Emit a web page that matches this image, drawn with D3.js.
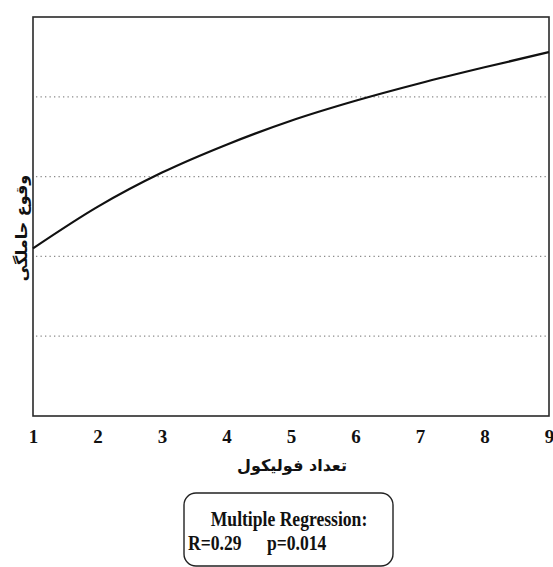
<!DOCTYPE html>
<html>
<head>
<meta charset="utf-8">
<script src="https://cdn.jsdelivr.net/npm/d3@7"></script>
<style>
  html, body { margin: 0; padding: 0; background: #fff; }
  svg { display: block; }
</style>
</head>
<body>
<svg id="chart" width="553" height="567"></svg>
<script>
// ---- data ----
const follicles = [1, 2, 3, 4, 5, 6, 7, 8, 9];
const pregnancy = [2.10, 2.62, 3.05, 3.40, 3.70, 3.95, 4.17, 4.37, 4.56];
const xTicks = [1, 2, 3, 4, 5, 6, 7, 8, 9];
const gridLevels = [1, 2, 3, 4];
const xLabel = "تعداد فولیکول";
const yLabel = "وقوع حاملگی";
const statsTitle = "Multiple Regression:";
const statsR = "R=0.29";
const statsP = "p=0.014";

(function () {
// ---- layout ----
const svg = d3.select("#chart");
const mLeft = 33, mRight = 549, mTop = 17, mBottom = 416;

const x = d3.scaleLinear().domain([1, 9]).range([mLeft, mRight]);
const y = d3.scaleLinear().domain([0, 5]).range([mBottom, mTop]);

// grid lines (dotted)
svg.append("g")
  .selectAll("line")
  .data(gridLevels)
  .join("line")
  .attr("x1", mLeft + 3)
  .attr("x2", mRight - 2)
  .attr("y1", d => y(d))
  .attr("y2", d => y(d))
  .attr("stroke", "#8a8a8a")
  .attr("stroke-width", 1.3)
  .attr("stroke-dasharray", "1.3,3.2");

// frame
svg.append("rect")
  .attr("x", mLeft)
  .attr("y", mTop)
  .attr("width", mRight - mLeft)
  .attr("height", mBottom - mTop)
  .attr("fill", "none")
  .attr("stroke", "#2a2a2a")
  .attr("stroke-width", 1.6);

// curve
const line = d3.line()
  .x((d, i) => x(follicles[i]))
  .y(d => y(d))
  .curve(d3.curveMonotoneX);

svg.append("path")
  .datum(pregnancy)
  .attr("d", line)
  .attr("fill", "none")
  .attr("stroke", "#111")
  .attr("stroke-width", 2.2);

const serif = "'Liberation Serif', 'Times New Roman', serif";

// x axis tick labels (no tick marks)
const xAxis = d3.axisBottom(x).tickValues(xTicks).tickSize(0).tickPadding(0).tickFormat(d3.format("d"));
const gx = svg.append("g").attr("transform", `translate(0, ${mBottom + 11})`).call(xAxis);
gx.select(".domain").remove();
gx.selectAll("text")
  .attr("dy", "0.85em")
  .attr("font-family", serif)
  .attr("font-weight", "bold")
  .attr("font-size", 19)
  .attr("fill", "#111");

// x axis title
svg.append("text")
  .attr("x", 292)
  .attr("y", 471)
  .attr("text-anchor", "middle")
  .attr("direction", "rtl")
  .attr("font-family", "'DejaVu Sans', sans-serif")
  .attr("font-weight", "bold")
  .attr("font-size", 16)
  .attr("fill", "#111")
  .text(xLabel);

// y axis title
svg.append("text")
  .attr("transform", "translate(27, 228) rotate(-90)")
  .attr("text-anchor", "middle")
  .attr("direction", "rtl")
  .attr("font-family", "'DejaVu Sans', sans-serif")
  .attr("font-weight", "bold")
  .attr("font-size", 16)
  .attr("fill", "#111")
  .text(yLabel);

// stats box
svg.append("rect")
  .attr("x", 184)
  .attr("y", 493)
  .attr("width", 209)
  .attr("height", 73)
  .attr("rx", 12)
  .attr("fill", "#fff")
  .attr("stroke", "#222")
  .attr("stroke-width", 1.4);

function condensed(tx, ty, txt, anchor) {
  svg.append("text")
    .attr("transform", `translate(${tx}, ${ty}) scale(0.88, 1)`)
    .attr("text-anchor", anchor)
    .attr("font-family", serif)
    .attr("font-weight", "bold")
    .attr("font-size", 20)
    .attr("fill", "#111")
    .text(txt);
}
condensed(289, 526, statsTitle, "middle");
condensed(188, 550, statsR, "start");
condensed(267, 550, statsP, "start");
})();
</script>
</body>
</html>
